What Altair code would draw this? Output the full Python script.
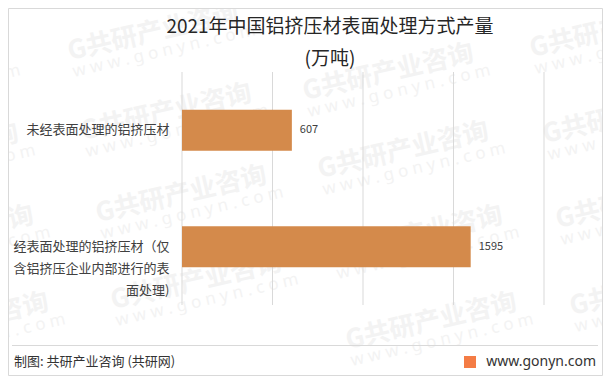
import altair as alt
import pandas as pd

# ---- data ----
categories = [
    "未经表面处理的铝挤压材",
    "经表面处理的铝挤压材（仅|含铝挤压企业内部进行的表|面处理)",
]
values = [607, 1595]
x_ticks = [0, 500, 1000, 1500, 2000]

title_lines = ["2021年中国铝挤压材表面处理方式产量", "(万吨)"]
footer_left = "制图: 共研产业咨询 (共研网)"
footer_right = "www.gonyn.com"
watermark_main = "G共研产业咨询"
watermark_sub = "w w w . g o n y n . c o m"

FONT = "Noto Sans CJK SC"
BAR_COLOR = "#D48A4B"

# watermark anchor layout (page pixels, left/baseline of each stamp)
wm_page = [
    (-165, 100), (-150, 180), (-135, 262), (-120, 349),
    (70, 60), (83, 140), (98, 222), (113, 309),
    (305, 100), (320, 178), (334, 262), (348, 349),
    (532, 57), (545, 143), (558, 228), (572, 315),
]
ORIGIN_X, ORIGIN_Y = 182, 72

df = pd.DataFrame({"cat": categories, "val": values})
ticks_df = pd.DataFrame({"t": x_ticks})
one = pd.DataFrame({"k": [0]})
wm = pd.DataFrame({
    "px": [p[0] - ORIGIN_X for p in wm_page],
    "py": [p[1] - ORIGIN_Y for p in wm_page],
})
wm["px2"] = wm["px"] + 4
wm["py2"] = wm["py"] + 17

y_enc = alt.Y(
    "cat:N",
    sort=None,
    title=None,
    scale=alt.Scale(paddingInner=0.65, paddingOuter=0.325),
    axis=alt.Axis(
        labelExpr="split(datum.label, '|')",
        labelFontSize=13,
        labelColor="#404040",
        labelLineHeight=22,
        labelFont=FONT,
        ticks=False,
        domain=False,
        labelPadding=13,
        labelLimit=400,
        zindex=2,
    ),
)

x_scale = alt.Scale(domain=[0, 2000], nice=False)
x_enc = alt.X(
    "val:Q",
    title=None,
    scale=x_scale,
    axis=alt.Axis(
        values=x_ticks,
        format="d",
        grid=False,
        domain=False,
        ticks=False,
        labelFontSize=11,
        labelColor="#595959",
        labelFont=FONT,
        labelPadding=9,
        zindex=2,
    ),
)

wm_main = alt.Chart(wm).mark_text(
    align="left", baseline="alphabetic", angle=347, fontSize=26, fontWeight="bold",
    color="#f3f3f3", font=FONT
).encode(
    x=alt.X("px:Q", scale=None), y=alt.Y("py:Q", scale=None), text=alt.value(watermark_main)
)
wm_subl = alt.Chart(wm).mark_text(
    align="left", baseline="alphabetic", angle=347, fontSize=17,
    color="#f3f3f3", font="Noto Sans"
).encode(
    x=alt.X("px2:Q", scale=None), y=alt.Y("py2:Q", scale=None), text=alt.value(watermark_sub)
)

grid = alt.Chart(ticks_df).mark_rule(color="#d9d9d9", strokeWidth=1).encode(
    x=alt.X("t:Q", scale=x_scale, axis=None),
    y=alt.value(0),
    y2=alt.value(233),
)

bars = alt.Chart(df).mark_bar(color=BAR_COLOR).encode(x=x_enc, y=y_enc)

labels = alt.Chart(df).mark_text(
    align="left", baseline="middle", dx=8, fontSize=11, color="#404040", font=FONT
).encode(x="val:Q", y=alt.Y("cat:N", sort=None), text="val:Q")

ann = alt.Chart(one)

border = ann.mark_rect(fill=None, stroke="#d9d9d9", strokeWidth=1).encode(
    x=alt.value(-173.5), x2=alt.value(420.5), y=alt.value(-63.5), y2=alt.value(303.5)
)

title1 = ann.mark_text(fontSize=19, color="#262626", font=FONT, baseline="middle").encode(
    x=alt.value(148), y=alt.value(-45), text=alt.value(title_lines[0])
)
title2 = ann.mark_text(fontSize=19, color="#262626", font=FONT, baseline="middle").encode(
    x=alt.value(148), y=alt.value(-13), text=alt.value(title_lines[1])
)

foot_line = ann.mark_rule(color="#d9d9d9", strokeWidth=1).encode(
    x=alt.value(-170), x2=alt.value(416), y=alt.value(273.5)
)
foot_l = ann.mark_text(align="left", baseline="middle", fontSize=13, color="#333333", font=FONT).encode(
    x=alt.value(-168), y=alt.value(290), text=alt.value(footer_left)
)
foot_r = ann.mark_text(align="right", baseline="middle", fontSize=14, color="#333333", font="Noto Sans").encode(
    x=alt.value(414), y=alt.value(290), text=alt.value(footer_right)
)
logo = ann.mark_rect(color="#F47C45").encode(
    x=alt.value(282), x2=alt.value(294), y=alt.value(284), y2=alt.value(296)
)

chart = alt.layer(
    wm_main, wm_subl, border, grid, bars, labels, title1, title2, foot_line, foot_l, foot_r, logo
).properties(
    width=362,
    height=233,
    autosize=alt.AutoSizeParams(type="none"),
    padding={"left": 174, "top": 64, "right": 59, "bottom": 71},
).configure_view(stroke=None)

chart.save("out.html", embed_options={"renderer": "svg", "actions": False})
